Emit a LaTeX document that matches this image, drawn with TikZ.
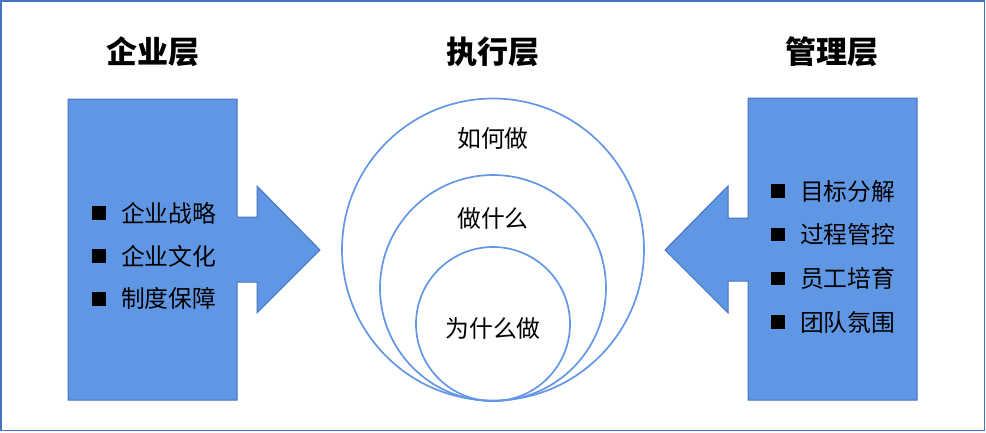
\documentclass[tikz,border=0pt]{standalone}
\usepackage{fontspec}
\setmainfont{Noto Sans CJK SC}
\usepackage{tikz}
\usetikzlibrary{positioning}
\definecolor{LayerBlue}{RGB}{96,151,228}
\definecolor{LayerEdge}{RGB}{70,114,190}
\definecolor{RingBlue}{RGB}{100,150,230}
\definecolor{FrameBlue}{RGB}{68,114,196}
\tikzset{
    layerbox/.style={fill=LayerBlue, draw=LayerEdge, line width=1pt, line join=miter},
    ringnode/.style={circle, draw=RingBlue, line width=1.7pt, inner sep=0pt},
    headnode/.style={font=\bfseries\fontsize{31}{36}\selectfont, text=black},
    itemnode/.style={inner sep=0pt, font=\fontsize{23.8}{28}\selectfont, text=black},
    bulletnode/.style={rectangle, fill=black, minimum size=13.5pt, inner sep=0pt}
}

\begin{document}
\begin{tikzpicture}[
                x=1pt, y=-1pt,
                ringtext/.style={font=\fontsize{23.8}{28}\selectfont, text=black}
            ]
                \useasboundingbox (0,0) rectangle (986,432);
                % Khung ngoài
                \draw[draw=FrameBlue, line width=1.2pt] (1,1) rectangle (984.5,430.5);

                % Tiêu đề ba tầng
                \node[headnode] (qiye) at (153,52) {企业层};
                \node[headnode] (zhixing) at (493,52) {执行层};
                \node[headnode] (guanli) at (832,52) {管理层};

                % Khối trái: hộp + mũi tên sang phải
                \draw[layerbox] (68,99) -- (237,99) -- (237,217) -- (257,217) -- (257,186)
                    -- (320,250) -- (257,313) -- (257,282) -- (237,282) -- (237,400)
                    -- (68,400) -- cycle;
                % Khối phải: hộp + mũi tên sang trái
                \draw[layerbox] (917,98) -- (748,98) -- (748,218) -- (728,218) -- (728,186)
                    -- (665,250) -- (728,313) -- (728,281) -- (748,281) -- (748,400)
                    -- (917,400) -- cycle;

                % Danh sách trái
                \node[bulletnode] (lb1) at (99,213) {};
                \node[bulletnode, below=29pt of lb1] (lb2) {};
                \node[bulletnode, below=29pt of lb2] (lb3) {};
                \node[itemnode, right=15pt of lb1] (lt1) {企业战略};
                \node[itemnode, right=15pt of lb2] (lt2) {企业文化};
                \node[itemnode, right=15pt of lb3] (lt3) {制度保障};

                % Danh sách phải
                \node[bulletnode] (rb1) at (778,191) {};
                \node[bulletnode, below=29.8pt of rb1] (rb2) {};
                \node[bulletnode, below=29.8pt of rb2] (rb3) {};
                \node[bulletnode, below=29.8pt of rb3] (rb4) {};
                \node[itemnode, right=15pt of rb1] (rt1) {目标分解};
                \node[itemnode, right=15pt of rb2] (rt2) {过程管控};
                \node[itemnode, right=15pt of rb3] (rt3) {员工培育};
                \node[itemnode, right=15pt of rb4] (rt4) {团队氛围};

                % Ba vòng tròn tiếp xúc ở đáy
                \node[ringnode, minimum size=302pt] (outer) at (493,249.5) {};
                \node[ringnode, minimum size=226pt] (middle) at (493,288) {};
                \node[ringnode, minimum size=154pt] (inner) at (493,324) {};
                \node[ringtext] (how) at (493,138) {如何做};
                \node[ringtext] (what) at (493,218) {做什么};
                \node[ringtext] (why) at (493,328) {为什么做};
            \end{tikzpicture}
\end{document}
